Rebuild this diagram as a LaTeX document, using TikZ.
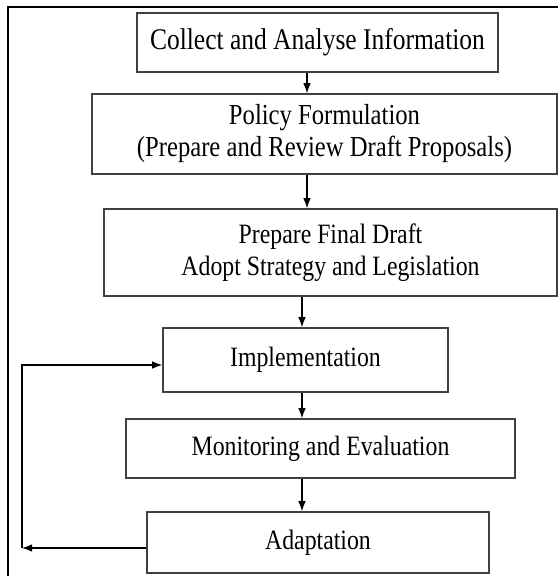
\documentclass[tikz,border=0pt]{standalone}
\usepackage{fontspec}
\setmainfont{Liberation Serif}[FakeStretch=0.85]
\usetikzlibrary{arrows.meta}
\begin{document}
\begin{tikzpicture}[x=1pt,y=-1pt,
  box/.style={draw=black!75, line width=1.6pt, fill=white, inner sep=0pt, align=center, font=\fontsize{28}{31}\selectfont},
  arr/.style={draw=black, line width=1.1pt, -{Latex[length=10pt,width=7.5pt]}},
  frameline/.style={line width=2.5pt, black}]
\useasboundingbox (0,0) rectangle (558,576);
\draw[frameline] (8,576) -- (8,7) -- (558,7);

\node[box, minimum width=361pt, minimum height=59pt, font=\fontsize{30}{31}\selectfont] (b1) at (317.5,42.5) {Collect and Analyse Information};
\node[box, minimum width=465pt, minimum height=80pt, font=\fontsize{29}{32}\selectfont] (b2) at (324.5,134) {Policy Formulation\\(Prepare and Review Draft Proposals)};
\node[box, minimum width=453pt, minimum height=87pt, font=\fontsize{28}{32}\selectfont] (b3) at (330.5,252.5) {Prepare Final Draft\\Adopt Strategy and Legislation};
\node[box, minimum width=285pt, minimum height=64pt] (b4) at (305.5,360) {Implementation};
\node[box, minimum width=389pt, minimum height=59pt] (b5) at (320.5,448.5) {Monitoring and Evaluation};
\node[box, minimum width=342pt, minimum height=61pt] (b6) at (318,542.5) {Adaptation};

\coordinate (xa) at (307,0);
\coordinate (xb) at (302,0);
\draw[arr] (b1.south -| xa) -- (b2.north -| xa);
\draw[arr] (b2.south -| xa) -- (b3.north -| xa);
\draw[arr] (b3.south -| xb) -- (b4.north -| xb);
\draw[arr] (b4.south -| xb) -- (b5.north -| xb);
\draw[arr] (b5.south -| xb) -- (b6.north -| xb);

\coordinate (c1) at (22,548);
\coordinate (c2) at (22,365);
\draw[arr] (b6.west |- c1) -- (c1);
\draw[arr] (c1) -- (c2) -- (b4.west |- c2);
\end{tikzpicture}
\end{document}
